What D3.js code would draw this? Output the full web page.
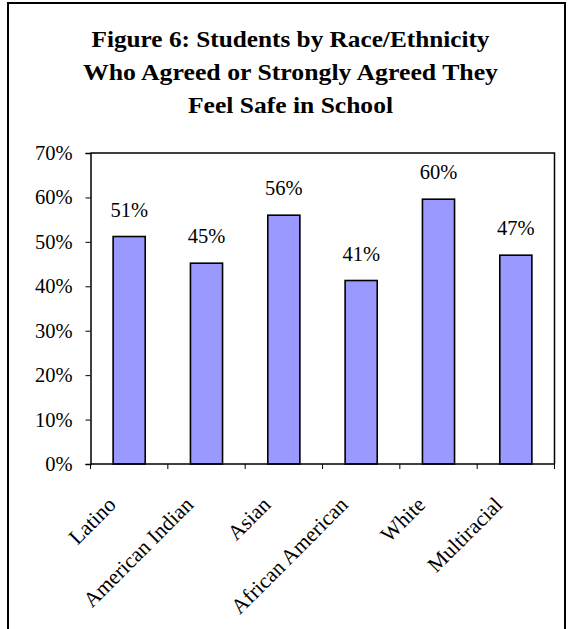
<!DOCTYPE html>
<html>
<head>
<meta charset="utf-8">
<script src="https://cdn.jsdelivr.net/npm/d3@7"></script>
<style>
  html, body { margin: 0; padding: 0; background: #fff; }
  svg { display: block; }
</style>
</head>
<body>
<svg id="chart" width="572" height="629"></svg>
<script>
// Share of students agreeing they feel safe in school, by group
const categories = ["Latino", "American Indian", "Asian", "African American", "White", "Multiracial"];
const values = [0.512, 0.452, 0.560, 0.413, 0.596, 0.470];
const yTicks = [0, 0.1, 0.2, 0.3, 0.4, 0.5, 0.6, 0.7];
const titleLines = [
  "Figure 6: Students by Race/Ethnicity",
  "Who Agreed or Strongly Agreed They",
  "Feel Safe in School"
];

const FONT = "'Liberation Serif', 'DejaVu Serif', serif";
const svg = d3.select("#chart").attr("font-family", FONT);
const plot = { left: 90.5, right: 554.5, top: 153, bottom: 464 };

// outer frame
svg.append("rect")
  .attr("x", 8).attr("y", 3)
  .attr("width", 557).attr("height", 700)
  .attr("fill", "none").attr("stroke", "#000").attr("stroke-width", 2);

// title
const titleWidths = [398, 415, 205];
const titleBaselines = [47, 80, 113];
svg.append("g").selectAll("text")
  .data(titleLines)
  .join("text")
  .attr("font-family", FONT)
  .attr("x", 290.5)
  .attr("y", (d, i) => titleBaselines[i])
  .attr("text-anchor", "middle")
  .attr("font-size", 24)
  .attr("font-weight", "bold")
  .attr("textLength", (d, i) => titleWidths[i])
  .attr("lengthAdjust", "spacingAndGlyphs")
  .text(d => d);

const x = d3.scaleBand().domain(categories).range([plot.left, plot.right]).padding(0);
const y = d3.scaleLinear().domain([0, 0.7]).range([plot.bottom, plot.top]);
const barW = x.bandwidth() * 0.415;

// plot area border (top and right)
svg.append("path")
  .attr("d", `M${plot.left},${plot.top}H${plot.right}V${plot.bottom}`)
  .attr("fill", "none").attr("stroke", "#000").attr("stroke-width", 1.5);

// bars
svg.append("g").selectAll("rect")
  .data(values)
  .join("rect")
  .attr("x", (d, i) => x(categories[i]) + (x.bandwidth() - barW) / 2)
  .attr("y", d => y(d))
  .attr("width", barW)
  .attr("height", d => y(0) - y(d))
  .attr("fill", "#9999FF")
  .attr("stroke", "#000")
  .attr("stroke-width", 1.6);

// value labels
const pct = d3.format(".0%");
svg.append("g").selectAll("text")
  .data(values)
  .join("text")
  .attr("font-family", FONT)
  .attr("x", (d, i) => x(categories[i]) + x.bandwidth() / 2)
  .attr("y", d => y(d) - 20)
  .attr("text-anchor", "middle")
  .attr("font-size", 20.5)
  .text(d => pct(d));

// y axis
const yAxis = svg.append("g")
  .attr("transform", `translate(${plot.left},0)`)
  .call(d3.axisLeft(y).tickValues(yTicks).tickFormat(pct).tickSize(5).tickPadding(13));
yAxis.attr("font-family", FONT).attr("font-size", 20.5);
yAxis.select(".domain").attr("stroke", "#000").attr("stroke-width", 1.5);
yAxis.selectAll(".tick line").attr("stroke", "#000").attr("stroke-width", 1);
yAxis.selectAll(".tick text").attr("fill", "#000");

// x axis: ticks at category boundaries
const boundaries = categories.map(c => x(c)).concat([plot.right]);
svg.append("line")
  .attr("x1", plot.left).attr("x2", plot.right)
  .attr("y1", plot.bottom).attr("y2", plot.bottom)
  .attr("stroke", "#000").attr("stroke-width", 1.5);
svg.append("g").selectAll("line")
  .data(boundaries)
  .join("line")
  .attr("x1", d => d).attr("x2", d => d)
  .attr("y1", plot.bottom).attr("y2", plot.bottom + 5)
  .attr("stroke", "#000").attr("stroke-width", 1);

// rotated category labels
svg.append("g").selectAll("text")
  .data(categories)
  .join("text")
  .attr("font-family", FONT)
  .attr("transform", d => `translate(${x(d) + x.bandwidth() / 2 - 12},${plot.bottom + 42}) rotate(-45)`)
  .attr("text-anchor", "end")
  .attr("font-size", 21.5)
  .text(d => d);
</script>
</body>
</html>
